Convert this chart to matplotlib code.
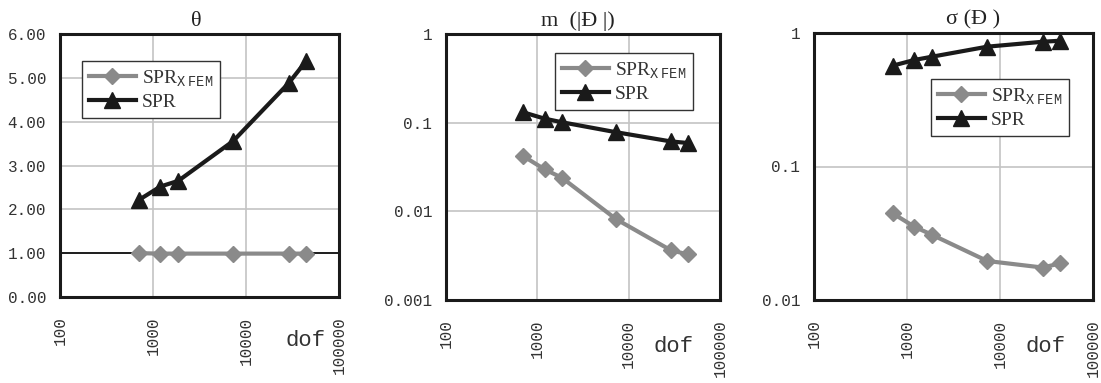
import matplotlib
matplotlib.use("Agg")
import matplotlib.pyplot as plt
from matplotlib.ticker import FixedLocator, FixedFormatter, NullLocator

plt.rcParams['font.family'] = ['Liberation Mono', 'DejaVu Sans']
plt.rcParams['mathtext.fontset'] = 'custom'
plt.rcParams['mathtext.rm'] = 'Liberation Mono'
plt.rcParams['mathtext.it'] = 'Liberation Mono'

dof = [700, 1200, 1870, 7300, 28800, 44200]

theta_xfem = [1.00, 0.99, 0.99, 0.99, 0.99, 0.99]
theta_spr = [2.21, 2.52, 2.65, 3.56, 4.88, 5.38]

m_xfem = [0.042, 0.0298, 0.0238, 0.00815, 0.00365, 0.00327]
m_spr = [0.131, 0.111, 0.101, 0.078, 0.0615, 0.059]

s_xfem = [0.0446, 0.0354, 0.0307, 0.0196, 0.0175, 0.0188]
s_spr = [0.569, 0.628, 0.665, 0.79, 0.86, 0.875]

titles = [r'θ', 'm  (|Ð |)', 'σ (Ð )']
xticks = [100, 1000, 10000, 100000]
xticklabels = ['100', '1000', '10000', '100000']
lab_xfem = r'SPR$_{\mathrm{X\ FEM}}$'
lab_spr = 'SPR'

W, H = 1101, 383
fig = plt.figure(figsize=(W / 100, H / 100), dpi=100)

def add_ax(l, r, t, b):
    return fig.add_axes([l / W, 1 - b / H, (r - l) / W, (b - t) / H])

axes = [add_ax(60, 339, 34, 297), add_ax(446, 720, 34, 300), add_ax(814, 1093, 33, 300)]
gray = '#8a8a8a'
dark = '#1a1a1a'
gridc = '#c4c4c4'

series = [(theta_xfem, theta_spr), (m_xfem, m_spr), (s_xfem, s_spr)]
leg_pos = [(90, 61, 212, 118), (563, 53, 685, 110), (939, 79, 1061, 136)]
dof_pos = [(0.88, -0.165), (0.83, -0.175), (0.83, -0.175)]
title_x = [0.49, 0.48, 0.57]

for i, ax in enumerate(axes):
    xf, sp = series[i]
    ax.set_xscale('log')
    ax.set_xlim(100, 100000)
    ax.plot(dof, xf, color=gray, lw=3, marker='D', ms=8, mfc=gray, mec=gray, label=lab_xfem, zorder=3)
    ax.plot(dof, sp, color=dark, lw=3, marker='^', ms=11, mfc=dark, mec=dark, label=lab_spr, zorder=4)
    ax.xaxis.set_major_locator(FixedLocator(xticks))
    ax.xaxis.set_major_formatter(FixedFormatter(xticklabels))
    ax.xaxis.set_minor_locator(NullLocator())
    for lbl in ax.get_xticklabels():
        lbl.set_rotation(90)
    if i == 0:
        ax.set_ylim(0, 6)
        yt = [0, 1, 2, 3, 4, 5, 6]
        ax.yaxis.set_major_locator(FixedLocator(yt))
        ax.yaxis.set_major_formatter(FixedFormatter(['%.2f' % v for v in yt]))
    elif i == 1:
        ax.set_yscale('log')
        ax.set_ylim(0.001, 1)
        yt = [0.001, 0.01, 0.1, 1]
        ax.yaxis.set_major_locator(FixedLocator(yt))
        ax.yaxis.set_major_formatter(FixedFormatter(['0.001', '0.01', '0.1', '1']))
    else:
        ax.set_yscale('log')
        ax.set_ylim(0.01, 1)
        yt = [0.01, 0.1, 1]
        ax.yaxis.set_major_locator(FixedLocator(yt))
        ax.yaxis.set_major_formatter(FixedFormatter(['0.01', '0.1', '1']))
    ax.yaxis.set_minor_locator(NullLocator())
    ax.grid(True, color=gridc, lw=1.2, zorder=0)
    ax.set_axisbelow(True)
    if i == 0:
        ax.axhline(1, color='black', lw=1.2, zorder=1)
    ax.tick_params(length=0, colors='#333333')
    ax.tick_params(axis='x', pad=14, labelsize=11.5)
    ax.tick_params(axis='y', pad=10, labelsize=11.5)
    for s in ax.spines.values():
        s.set_linewidth(2.2)
        s.set_color('#1a1a1a')
    ax.text(*dof_pos[i], 'dof', transform=ax.transAxes, fontsize=16, color='#333333', ha='center', va='center')
    ax.set_title(titles[i], fontsize=16, x=title_x[i], pad=6, color='#222222',
                 family=['Liberation Serif', 'DejaVu Serif'])
    l, t, r, b = leg_pos[i]
    pos = ax.get_position()
    bx = (l / W - pos.x0) / pos.width
    by = ((1 - b / H) - pos.y0) / pos.height
    bw = (r - l) / W / pos.width
    bh = (b - t) / H / pos.height
    leg = ax.legend(loc='center', bbox_to_anchor=(bx, by, bw, bh), frameon=True,
                    fancybox=False, edgecolor='#333333', framealpha=1, borderpad=0.35,
                    handlelength=2.4, handletextpad=0.3, labelspacing=0.25, borderaxespad=0,
                    prop={'family': ['Liberation Serif', 'DejaVu Serif'], 'size': 14})
    leg.get_frame().set_linewidth(1.0)
    for txt in leg.get_texts():
        txt.set_color('#333333')

fig.savefig('out.png', dpi=100)
